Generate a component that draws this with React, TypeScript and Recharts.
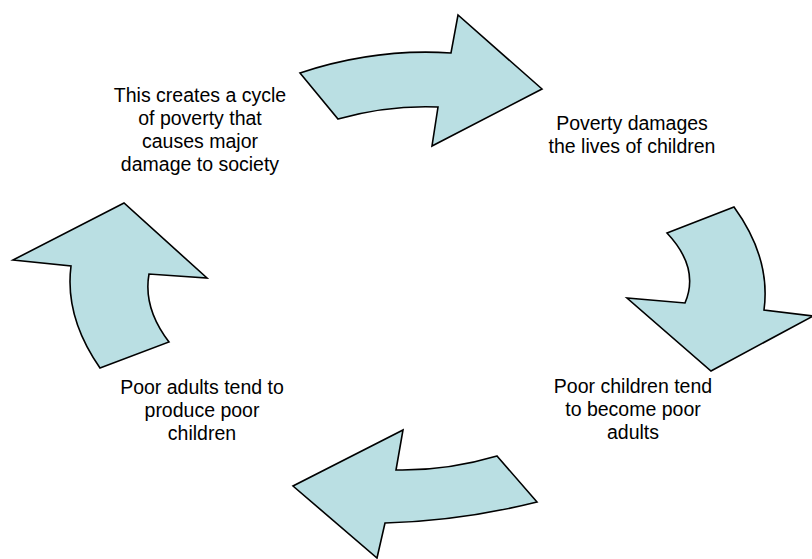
import { ScatterChart, Scatter, XAxis, YAxis } from "recharts";

type P = { x: number; y: number; c: "M" | "L" | "Q" | "Q2" };

// arrow outlines, in picture units (x right, y down). Q = control point, Q2 = its end point
const arrowTop: P[] = [
  { x: 300, y: 73, c: "M" },
  { x: 338, y: 119, c: "L" },
  { x: 388, y: 105, c: "Q" },
  { x: 438, y: 107, c: "Q2" },
  { x: 432, y: 146, c: "L" },
  { x: 542, y: 89, c: "L" },
  { x: 458, y: 15, c: "L" },
  { x: 451, y: 53, c: "L" },
  { x: 375, y: 48, c: "Q" },
  { x: 300, y: 73, c: "Q2" },
];

const arrowRight: P[] = [
  { x: 667, y: 233, c: "M" },
  { x: 734, y: 207, c: "L" },
  { x: 771, y: 258, c: "Q" },
  { x: 764, y: 310, c: "Q2" },
  { x: 813, y: 316, c: "L" },
  { x: 711, y: 371, c: "L" },
  { x: 627, y: 298, c: "L" },
  { x: 685, y: 303, c: "L" },
  { x: 700, y: 268, c: "Q" },
  { x: 667, y: 233, c: "Q2" },
];

const arrowBottom: P[] = [
  { x: 497, y: 456, c: "M" },
  { x: 537, y: 502, c: "L" },
  { x: 461, y: 521, c: "Q" },
  { x: 385, y: 523, c: "Q2" },
  { x: 377, y: 558, c: "L" },
  { x: 293, y: 486, c: "L" },
  { x: 403, y: 430, c: "L" },
  { x: 396, y: 470, c: "L" },
  { x: 446.5, y: 471, c: "Q" },
  { x: 497, y: 456, c: "Q2" },
];

const arrowLeft: P[] = [
  { x: 100, y: 368, c: "M" },
  { x: 169, y: 342, c: "L" },
  { x: 143, y: 308, c: "Q" },
  { x: 149, y: 274, c: "Q2" },
  { x: 207, y: 278, c: "L" },
  { x: 124, y: 203, c: "L" },
  { x: 13, y: 260, c: "L" },
  { x: 71, y: 266, c: "L" },
  { x: 64.5, y: 317, c: "Q" },
  { x: 100, y: 368, c: "Q2" },
];

const arrows = [arrowTop, arrowRight, arrowBottom, arrowLeft];

// text blocks: anchor = centre of first line
const labels = [
  { x: 200, y: 95, lines: ["This creates a cycle", "of poverty that", "causes major", "damage to society"] },
  { x: 632, y: 123, lines: ["Poverty damages", "the lives of children"] },
  { x: 633, y: 386, lines: ["Poor children tend", "to become poor", "adults"] },
  { x: 202, y: 387, lines: ["Poor adults tend to", "produce poor", "children"] },
];

const W = 812;
const H = 559;
const FILL = "#badfe3";
const LINE_H = 23;

function arrowPath(pts: { x: number; y: number }[], spec: P[]) {
  let d = "";
  pts.forEach((p, i) => {
    const c = spec[i].c;
    if (c === "M") d += `M${p.x},${p.y}`;
    else if (c === "L") d += ` L${p.x},${p.y}`;
    else if (c === "Q") d += ` Q${p.x},${p.y}`;
    else d += ` ${p.x},${p.y}`;
  });
  return d + " Z";
}

const noDot = () => <g />;

function LabelShape(props: any) {
  const { cx, cy, payload } = props;
  return (
    <text
      x={cx}
      y={cy}
      textAnchor="middle"
      fontFamily="'Liberation Sans', Arial, sans-serif"
      fontSize={19.5}
      fill="#000"
    >
      {payload.lines.map((t: string, i: number) => (
        <tspan key={i} x={cx} y={cy + i * LINE_H} dominantBaseline="central">
          {t}
        </tspan>
      ))}
    </text>
  );
}

export default function App() {
  return (
    <div style={{ position: "absolute", left: 0, top: 0, width: W, height: H, background: "#fff" }}>
      <ScatterChart width={W} height={H} margin={{ top: 0, right: 0, bottom: 0, left: 0 }}>
        <XAxis type="number" dataKey="x" domain={[0, W]} hide allowDataOverflow />
        <YAxis type="number" dataKey="y" domain={[0, H]} reversed hide allowDataOverflow />
        {arrows.map((a, k) => (
          <Scatter
            key={k}
            data={a}
            isAnimationActive={false}
            shape={noDot}
            line={(lp: any) => (
              <path
                d={arrowPath(lp.points, a)}
                fill={FILL}
                stroke="#000"
                strokeWidth={1.6}
                strokeLinejoin="miter"
              />
            )}
          />
        ))}
        <Scatter data={labels} isAnimationActive={false} shape={LabelShape} />
      </ScatterChart>
    </div>
  );
}
